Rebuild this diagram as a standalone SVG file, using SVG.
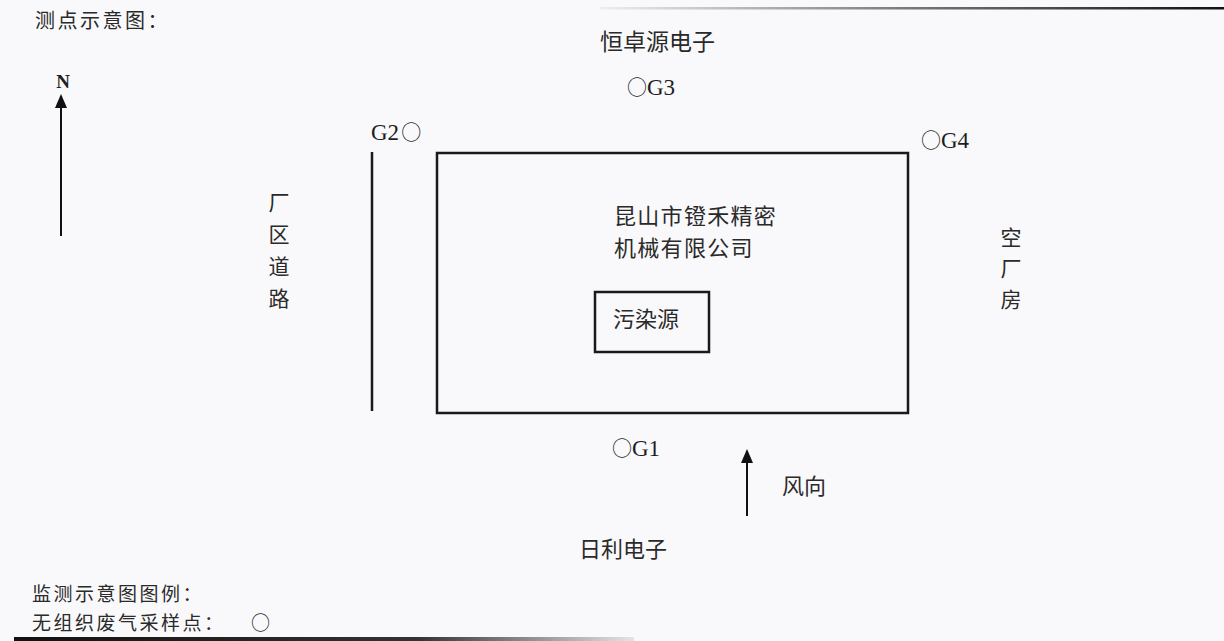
<svg xmlns="http://www.w3.org/2000/svg" width="1224" height="641" viewBox="0 0 1224 641">
<style>
.cn{font-family:"Noto Sans CJK SC","Noto Sans",sans-serif;fill:#2a2a2a;}
.lat{font-family:"Liberation Serif","Noto Sans CJK SC",serif;fill:#1e1e1e;}
.ln{stroke:#1a1a1a;stroke-width:2.5;fill:none;}
.arr{stroke:#111;stroke-width:2;fill:none;}
</style>
<defs>
<marker id="ah" markerWidth="14" markerHeight="12" refX="12" refY="6" orient="auto" markerUnits="userSpaceOnUse" viewBox="0 0 14 12">
<path d="M0,0 L14,6 L0,12 Z" fill="#111"/>
</marker>
<linearGradient id="bot" x1="0" x2="1" y1="0" y2="0">
<stop offset="0" stop-color="#111"/><stop offset="0.65" stop-color="#333"/><stop offset="1" stop-color="#e4e4e4"/>
</linearGradient>
<linearGradient id="top" x1="0" x2="1" y1="0" y2="0">
<stop offset="0" stop-color="#eee"/><stop offset="0.5" stop-color="#777"/><stop offset="1" stop-color="#111"/>
</linearGradient>
</defs>
<rect width="1224" height="641" fill="#f9f9fb"/>
<rect x="600" y="7" width="624" height="2.5" fill="url(#top)"/>
<rect x="14" y="637" width="620" height="4" fill="url(#bot)"/>

<g id="title"><text class="cn" x="35" y="28" font-size="20" letter-spacing="2.5">测点示意图：</text></g>

<g id="north">
<text class="lat" x="63" y="88" font-size="19" font-weight="bold" text-anchor="middle">N</text>
</g>

<g id="road">
<line class="ln" x1="372" y1="152" x2="372" y2="411" stroke-width="2"/>
<text class="cn" x="279" y="210" font-size="21" text-anchor="middle">厂</text>
<text class="cn" x="279" y="242" font-size="21" text-anchor="middle">区</text>
<text class="cn" x="279" y="274" font-size="21" text-anchor="middle">道</text>
<text class="cn" x="279" y="306" font-size="21" text-anchor="middle">路</text>
</g>

<g id="company">
<rect class="ln" x="437" y="153" width="471" height="260"/>
<text class="cn" x="614" y="224" font-size="22" letter-spacing="1.3">昆山市镫禾精密</text>
<text class="cn" x="614" y="256" font-size="22" letter-spacing="1.3">机械有限公司</text>
</g>

<g id="source">
<rect class="ln" x="595" y="292" width="114" height="60" stroke-width="2"/>
<text class="cn" x="613" y="327" font-size="22">污染源</text>
</g>

<g id="north-neighbor"><text class="cn" x="600" y="50" font-size="23">恒卓源电子</text></g>
<g id="east-neighbor">
<text class="cn" x="1011" y="245" font-size="21" text-anchor="middle">空</text>
<text class="cn" x="1011" y="276" font-size="21" text-anchor="middle">厂</text>
<text class="cn" x="1011" y="307" font-size="21" text-anchor="middle">房</text>
</g>
<g id="south-neighbor"><text class="cn" x="579" y="557" font-size="22">日利电子</text></g>

<g id="G1"><text class="lat" x="612" y="456" font-size="23"><tspan class="cn" font-size="20">○</tspan>G1</text></g>
<g id="G2"><text class="lat" x="371" y="140" font-size="23">G2<tspan class="cn" font-size="20" dx="2">○</tspan></text></g>
<g id="G3"><text class="lat" x="627" y="95" font-size="23"><tspan class="cn" font-size="20">○</tspan>G3</text></g>
<g id="G4"><text class="lat" x="921" y="148" font-size="23"><tspan class="cn" font-size="20">○</tspan>G4</text></g>

<g id="wind"><text class="cn" x="782" y="494" font-size="22">风向</text></g>

<g id="legend">
<text class="cn" x="32" y="601" font-size="19" letter-spacing="2.5">监测示意图图例：</text>
<text class="cn" x="32" y="630" font-size="19" letter-spacing="2.5">无组织废气采样点：<tspan x="251">○</tspan></text>
</g>

<g id="connectors">
<line class="arr" x1="61" y1="236" x2="61" y2="96" marker-end="url(#ah)"/>
<line class="arr" x1="747" y1="516" x2="747" y2="451" marker-end="url(#ah)"/>
</g>
</svg>
